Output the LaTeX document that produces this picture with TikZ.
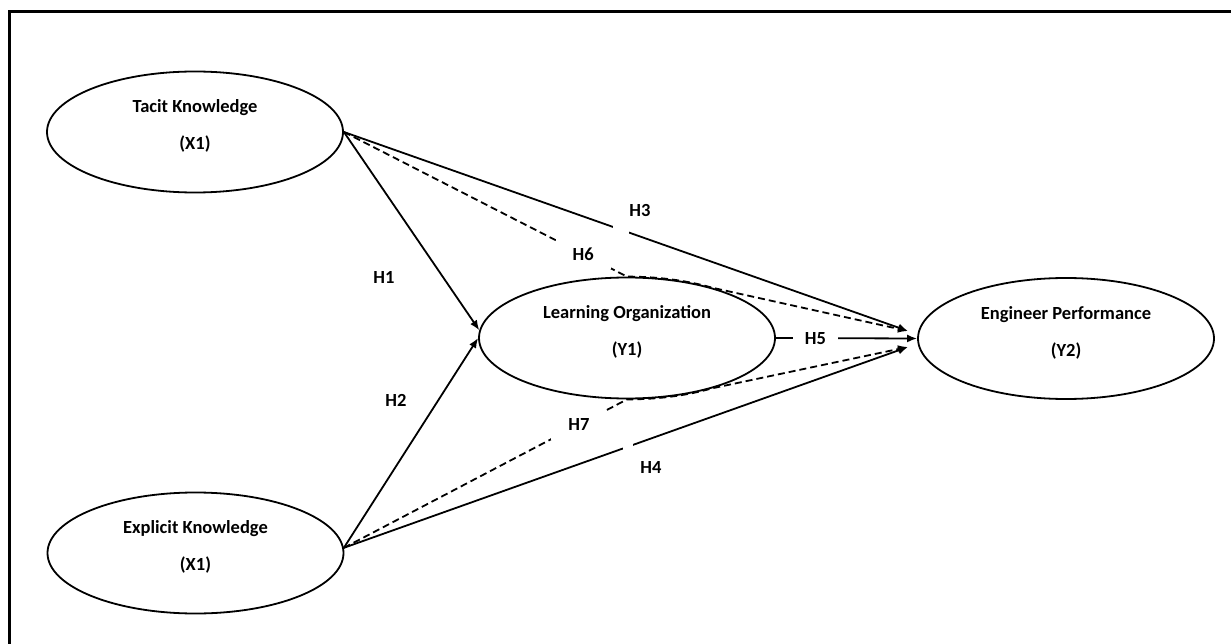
\documentclass[tikz,border=0pt]{standalone}
\usepackage{fontspec}
\setmainfont{Carlito}
\usetikzlibrary{arrows.meta,shapes.geometric}

\begin{document}
\begin{tikzpicture}[x=1pt,y=-1pt,>={Latex[length=10pt,width=8pt]}]

\tikzset{construct/.style={ellipse,draw,line width=1.8pt,minimum width=296pt,minimum height=121pt,inner sep=0pt},
  construct text/.style={font=\bfseries\fontsize{18.5}{37}\selectfont,align=center,inner sep=0pt,yshift=6pt},
  hyp/.style={font=\bfseries\fontsize{18.5}{21}\selectfont,inner sep=1pt},
  hyp cut/.style={hyp,fill=white,minimum width=55pt,minimum height=30pt},
  cut/.style={fill=white,inner sep=0pt,minimum size=#1},
  link/.style={line width=1.8pt,->},
  mediated/.style={line width=1.8pt,->,dash pattern=on 7pt off 4pt}
}

\useasboundingbox (0,0) rectangle (1231,644);

%% Frame
\draw[line width=3pt] (9.5,644) -- (9.5,12) -- (1231,12);

%% Constructs
\node[construct] (tacit) at (195,132) {};
\node[construct text] (tacit text) at (tacit.center) {Tacit Knowledge\\(X1)};

\node[construct] (explicit) at (195.5,553) {};
\node[construct text] (explicit text) at (explicit.center) {Explicit Knowledge\\(X1)};

\node[construct] (learn) at (627,338) {};
\node[construct text] (learn text) at (learn.center) {Learning Organization\\(Y1)};

\node[construct] (eng) at (1066,338.5) {};
\node[construct text] (eng text) at (eng.center) {Engineer Performance\\(Y2)};

%% Arrow tips in front of Engineer Performance
\coordinate (tipU) at (908,331);
\coordinate (tipM) at (eng.west);
\coordinate (tipL) at (908,347);

%% Direct effects
\draw[link] (tacit.east) -- (learn.177);
\draw[link] (explicit.2) -- (learn.west);
\draw[link] (tacit.east) -- node[cut=16pt,pos=0.492] (h3 cut) {} (tipU);
\draw[link] (explicit.2) -- node[cut=10pt,pos=0.504] (h4 cut) {} (tipL);
\draw[link] (learn.east) -- node[hyp,fill=white,inner xsep=12pt,pos=0.28] (h5) {H5} (tipM);

%% Mediated effects
\draw[mediated] (tacit.east) -- node[hyp cut,pos=0.845] (h6) {H6} (learn.north)
  arc[start angle=-90,end angle=-55,x radius=148,y radius=61] -- (tipU);
\draw[mediated] (explicit.2) -- node[hyp cut,pos=0.83] (h7) {H7} (learn.south)
  arc[start angle=90,end angle=55,x radius=148,y radius=61] -- (tipL);

%% Hypothesis labels
\node[hyp] (h1) at (384,277) {H1};
\node[hyp] (h2) at (396,400) {H2};
\node[hyp] (h3) at (640,210) {H3};
\node[hyp] (h4) at (651,467) {H4};

\end{tikzpicture}
\end{document}
